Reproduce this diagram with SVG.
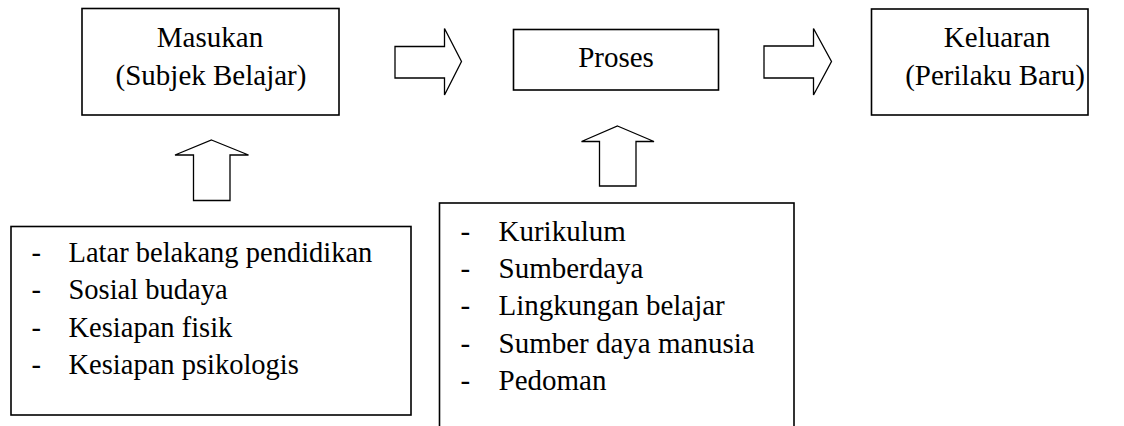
<svg xmlns="http://www.w3.org/2000/svg" width="1124" height="426" viewBox="0 0 1124 426">
  <style>
    .box { fill: #ffffff; stroke: #000000; stroke-width: 1.6; }
    .arrow { fill: #ffffff; stroke: #000000; stroke-width: 1.3; stroke-linejoin: miter; }
    .t { font-family: 'Liberation Serif', Tinos, 'Times New Roman', Times, 'Noto Serif', 'DejaVu Serif', serif; font-size: 29px; fill: #000000; }
    .small { font-size: 28.5px; }
    .c { text-anchor: middle; }
  </style>
  <rect width="1124" height="426" fill="#ffffff"/>

  <!-- block arrows between stages -->
  <g id="connectors">
    <polygon class="arrow" points="395,46.5 444.5,46.5 444.5,28.5 461.5,61.5 444.5,95 444.5,78 395,78"/>
    <polygon class="arrow" points="764,46 813.5,46 813.5,28.5 831.5,61.5 813.5,95 813.5,78 764,78"/>
    <polygon class="arrow" points="211.5,140 248.5,155 230,155 230,200.5 193.5,200.5 193.5,155 175,155"/>
    <polygon class="arrow" points="617.5,126 654,141.5 636,141.5 636,186 599.5,186 599.5,141.5 581.5,141.5"/>
  </g>

  <g id="masukan" class="t">
    <rect class="box" x="82" y="8.5" width="257" height="106.5"/>
    <text class="c" x="210" y="47">Masukan</text>
    <text class="c" x="211" y="85">(Subjek Belajar)</text>
  </g>

  <g id="proses" class="t">
    <rect class="box" x="513.5" y="29.5" width="205" height="60.5"/>
    <text class="c" x="616" y="66.5">Proses</text>
  </g>

  <g id="keluaran" class="t">
    <rect class="box" x="871.5" y="9" width="216.5" height="106"/>
    <text class="c" x="997" y="47">Keluaran</text>
    <text class="c" x="995" y="85">(Perilaku Baru)</text>
  </g>

  <g id="faktor-masukan" class="t small">
    <rect class="box" x="11" y="226.5" width="400" height="188.5"/>
    <text x="31.5" y="262">-</text><text x="68.5" y="262">Latar belakang pendidikan</text>
    <text x="31.5" y="299">-</text><text x="68.5" y="299">Sosial budaya</text>
    <text x="31.5" y="336.5">-</text><text x="68.5" y="336.5">Kesiapan fisik</text>
    <text x="31.5" y="373.5">-</text><text x="68.5" y="373.5">Kesiapan psikologis</text>
  </g>

  <g id="faktor-proses" class="t">
    <rect class="box" x="439.5" y="203" width="354.5" height="240"/>
    <text x="460.5" y="240.5">-</text><text x="498.5" y="240.5">Kurikulum</text>
    <text x="460.5" y="277.5">-</text><text x="498.5" y="277.5">Sumberdaya</text>
    <text x="460.5" y="315">-</text><text x="498.5" y="315">Lingkungan belajar</text>
    <text x="460.5" y="352.5">-</text><text x="498.5" y="352.5">Sumber daya manusia</text>
    <text x="460.5" y="390">-</text><text x="498.5" y="390">Pedoman</text>
  </g>
</svg>
